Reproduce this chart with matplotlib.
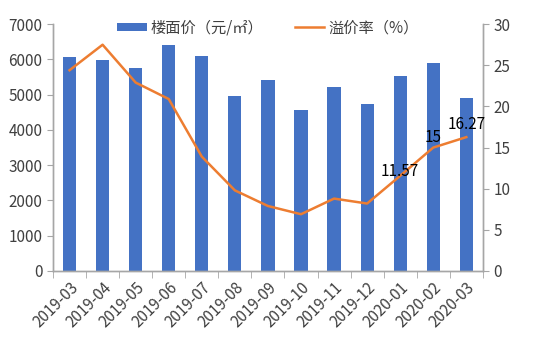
import matplotlib
matplotlib.use("Agg")
import matplotlib.pyplot as plt
from matplotlib.ticker import FixedLocator

plt.rcParams['font.family'] = ['Noto Sans CJK SC', 'DejaVu Sans']

months = ["2019-03", "2019-04", "2019-05", "2019-06", "2019-07", "2019-08", "2019-09",
          "2019-10", "2019-11", "2019-12", "2020-01", "2020-02", "2020-03"]
floor_price = [6060, 5980, 5750, 6400, 6090, 4960, 5410, 4570, 5210, 4730, 5520, 5900, 4900]
premium_rate = [24.4, 27.5, 22.9, 20.9, 13.9, 9.8, 7.9, 6.9, 8.8, 8.2, 11.57, 15, 16.27]
labeled = {10: "11.57", 11: "15", 12: "16.27"}

bar_color = "#4472C4"
line_color = "#ED7D31"
text_color = "#404040"
axis_color = "#A6A6A6"

fig = plt.figure(figsize=(5.55, 3.45), dpi=100)
ax = fig.add_axes([0.0955, 0.2145, 0.7745, 0.7155])
ax2 = ax.twinx()

x = list(range(len(months)))
ax.bar(x, floor_price, width=0.4, color=bar_color, label="楼面价（元/㎡）", zorder=2)
ax2.plot(x, premium_rate, color=line_color, linewidth=1.8, label="溢价率（%）", zorder=3)

offsets = {10: 3, 11: 7, 12: 9}
for i, t in labeled.items():
    ax2.annotate(t, (x[i], premium_rate[i]), xytext=(0, offsets[i]), textcoords="offset points",
                 ha="center", va="center", fontsize=11, color="#000000")

ax.set_xlim(-0.5, len(months) - 0.5)
ax.set_ylim(0, 7000)
ax2.set_ylim(0, 30)
ax.set_yticks(range(0, 7001, 1000))
ax2.set_yticks(range(0, 31, 5))

ax.set_xticks(x)
ax.set_xticklabels(months, rotation=45, ha="right", rotation_mode="anchor",
                   fontsize=11, color=text_color)
ax.tick_params(axis="x", length=0, pad=6)
ax.xaxis.set_minor_locator(FixedLocator([i - 0.5 for i in range(len(months) + 1)]))
ax.tick_params(axis="x", which="minor", length=5, color=axis_color, direction="out")

ax.tick_params(axis="y", labelsize=11, labelcolor=text_color, color=axis_color, length=4)
ax2.tick_params(axis="y", labelsize=11, labelcolor=text_color, color=axis_color, length=4)

for a in (ax, ax2):
    a.spines["top"].set_visible(False)
    for s in ("left", "right", "bottom"):
        a.spines[s].set_color(axis_color)
        a.spines[s].set_linewidth(1.0)

h1, l1 = ax.get_legend_handles_labels()
h2, l2 = ax2.get_legend_handles_labels()
leg = ax.legend(h1 + h2, l1 + l2, loc="upper center", bbox_to_anchor=(0.5, 1.075), ncol=2,
                frameon=False, fontsize=11, handlelength=1.9, columnspacing=2.1,
                handletextpad=0.25, handleheight=0.5)
for t in leg.get_texts():
    t.set_color(text_color)

fig.savefig("out.png", dpi=100)
